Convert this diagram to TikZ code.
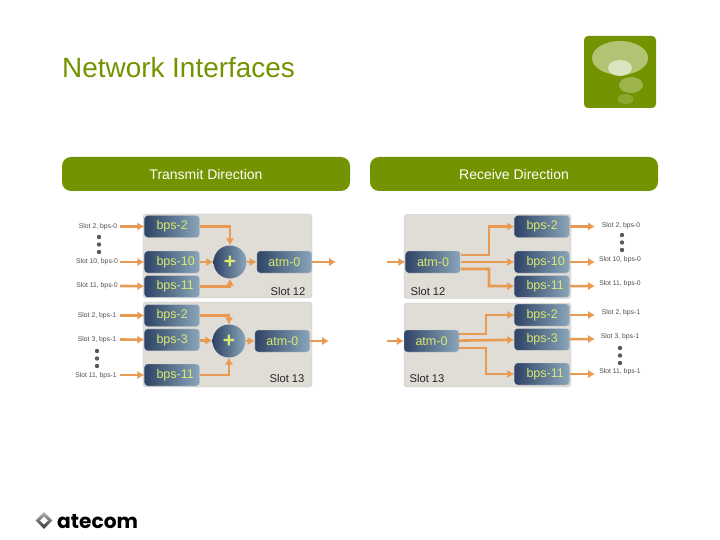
\documentclass[tikz,border=0pt]{standalone}
\usepackage{fontspec}
\setmainfont{Liberation Sans}
\newfontfamily\logofont{Poppins}
\usetikzlibrary{positioning}
\usetikzlibrary{shapes.geometric}
\usetikzlibrary{arrows.meta}
\definecolor{atgreen}{HTML}{739300}
\definecolor{wirecol}{HTML}{E89A52}
\definecolor{blockdark}{HTML}{2F4366}
\definecolor{blocklight}{HTML}{8AA6BA}
\definecolor{blocktext}{HTML}{D9EA6E}
\definecolor{panelcol}{HTML}{E0DCD6}
\tikzstyle{panel} = [draw=black!22, fill=panelcol, rounded corners=3pt, minimum width=169pt, minimum height=84pt]
\tikzstyle{block} = [draw=black!18, rounded corners=3pt, left color=blockdark, right color=blocklight, text=blocktext, font=\fontsize{12.5}{14}\selectfont, minimum width=55pt, minimum height=22pt, inner sep=0pt]
\tikzstyle{bps} = [block, text width=50pt, inner xsep=2.5pt, align=flush left, execute at begin node=\hspace*{9.5pt}]
\tikzstyle{op} = [circle, left color=blockdark, right color=blocklight, text=blocktext, minimum size=33pt, inner sep=0pt, font=\bfseries\fontsize{21}{21}\selectfont]
\tikzstyle{wire} = [wirecol, line width=2.6pt, ->, >={Latex[length=7pt,width=8.5pt]}]
\tikzstyle{slot} = [font=\fontsize{6.8}{8}\selectfont, inner sep=0pt, text=black!70]
\tikzstyle{slotname} = [font=\fontsize{11.2}{13}\selectfont, inner sep=0pt, text=black!85]
\tikzstyle{head} = [fill=atgreen, rounded corners=9pt, text=white, minimum width=288pt, minimum height=34pt, inner sep=0pt, font=\fontsize{14}{16}\selectfont]
\tikzstyle{dot} = [circle, fill=black!65, inner sep=0pt, minimum size=4.4pt]

\begin{document}
\begin{tikzpicture}[x=1pt, y=-1pt]
\useasboundingbox (0,0) rectangle (720,540);

% title and corner mark
\node (title) [anchor=base west, inner sep=0pt, text=atgreen, font=\fontsize{27.9}{30}\selectfont] at (62,77.5) {Network Interfaces};
\node (mark) [fill=atgreen, rounded corners=4pt, minimum width=72pt, minimum height=72pt, inner sep=0pt] at (620,72) {};
\fill [white!45!atgreen] (620,58) ellipse (28 and 17);
\fill [white!75!atgreen] (620,68) ellipse (12 and 8);
\fill [white!30!atgreen] (631,85) ellipse (12 and 8);
\fill [white!18!atgreen] (625.5,99) ellipse (8 and 5);

% headers
\node (txhead) [head] at (206,174) {Transmit Direction};
\node (rxhead) [head] at (514,174) {Receive Direction};

% transmit, slot 12
\node (txpanela) [panel] at (227.5,256) {};
\node (txa2) [bps] at (172,226.5) {bps-2};
\node (txa10) [bps] at (172,262) {bps-10};
\node (txa11) [bps, below=2pt of txa10] {bps-11};
\node (suma) [op] at (230,262) {+};
\node (atma) [block, right=10pt of suma] {atm-0};
\node (slota) [slotname] at (288,291) {Slot 12};
\draw [wire] (txa2) -| (suma);
\draw [wire] (txa10) -- (suma);
\draw [wire] (txa11) -| (suma);
\draw [wire] (suma) -- (atma);
\coordinate (outa) at (336,262);
\draw [wire] (atma) -- (outa);

\node (la2) [slot] at (98,226.5) {Slot 2, bps-0};
\node (la10) [slot] at (97,262) {Slot 10, bps-0};
\node (la11) [slot] at (97,286) {Slot 11, bps-0};
\coordinate (sa2) at (120,226.5);
\coordinate (sa10) at (120,262);
\coordinate (sa11) at (120,286);
\draw [wire] (sa2) -- (txa2);
\draw [wire] (sa10) -- (txa10);
\draw [wire] (sa11) -- (txa11);
\foreach \y in {237,244.5,252} \node [dot] at (99,\y) {};

% transmit, slot 13
\node (txpanelb) [panel, minimum height=85pt] at (227.5,344.5) {};
\node (txb2) [bps] at (172,315.5) {bps-2};
\node (txb3) [bps, below=2pt of txb2] {bps-3};
\node (txb11) [bps] at (172,375) {bps-11};
\node (sumb) [op] at (229,341) {+};
\node (atmb) [block, right=9pt of sumb] {atm-0};
\node (slotb) [slotname] at (287,378) {Slot 13};
\draw [wire] (txb2) -| (sumb);
\draw [wire] (txb3) -- (sumb);
\draw [wire] (txb11) -| (sumb);
\draw [wire] (sumb) -- (atmb);
\coordinate (outb) at (329,341);
\draw [wire] (atmb) -- (outb);

\node (lb2) [slot] at (97,316) {Slot 2, bps-1};
\node (lb3) [slot] at (97,340) {Slot 3, bps-1};
\node (lb11) [slot] at (96,376) {Slot 11, bps-1};
\coordinate (sb2) at (120,315.5);
\coordinate (sb3) at (120,339.5);
\coordinate (sb11) at (120,375);
\draw [wire] (sb2) -- (txb2);
\draw [wire] (sb3) -- (txb3);
\draw [wire] (sb11) -- (txb11);
\foreach \y in {351,358.5,366} \node [dot] at (97,\y) {};

% receive, slot 12
\node (rxpanela) [panel, minimum width=167pt] at (487.5,256.5) {};
\node (rxatma) [block] at (433,262) {atm-0};
\node (rxa2) [bps] at (542,226.5) {bps-2};
\node (rxa10) [bps] at (542,262) {bps-10};
\node (rxa11) [bps, below=2pt of rxa10] {bps-11};
\node (rxslota) [slotname] at (428,291) {Slot 12};
\coordinate (inrxa) at (387,262);
\draw [wire] (inrxa) -- (rxatma);
\coordinate (ja2) at (489,226.5);
\coordinate (ja11) at (489,286);
\draw [wire] ([yshift=7pt]rxatma.east) -| (ja2) -- (rxa2);
\draw [wire] (rxatma) -- (rxa10);
\draw [wire] ([yshift=-7pt]rxatma.east) -| (ja11) -- (rxa11);

\node (ra2) [slot] at (621,226) {Slot 2, bps-0};
\node (ra10) [slot] at (620,260) {Slot 10, bps-0};
\node (ra11) [slot] at (620,284) {Slot 11, bps-0};
\coordinate (ta2) at (595,226.5);
\coordinate (ta10) at (595,262);
\coordinate (ta11) at (595,286);
\draw [wire] (rxa2) -- (ta2);
\draw [wire] (rxa10) -- (ta10);
\draw [wire] (rxa11) -- (ta11);
\foreach \y in {235,242.5,250} \node [dot] at (622,\y) {};

% receive, slot 13
\node (rxpanelb) [panel, minimum width=167pt] at (487.5,345) {};
\node (rxatmb) [block] at (431.5,341) {atm-0};
\node (rxb2) [bps] at (542,315) {bps-2};
\node (rxb3) [bps, below=2pt of rxb2] {bps-3};
\node (rxb11) [bps] at (542,374) {bps-11};
\node (rxslotb) [slotname] at (427,378) {Slot 13};
\coordinate (inrxb) at (387,341);
\draw [wire] (inrxb) -- (rxatmb);
\coordinate (jb2) at (486,315);
\coordinate (jb11) at (486,374);
\draw [wire] ([yshift=7pt]rxatmb.east) -| (jb2) -- (rxb2);
\draw [wire] (rxatmb) -- (rxb3);
\draw [wire] ([yshift=-7pt]rxatmb.east) -| (jb11) -- (rxb11);

\node (rb2) [slot] at (621,313) {Slot 2, bps-1};
\node (rb3) [slot] at (620,337) {Slot 3, bps-1};
\node (rb11) [slot] at (620,372) {Slot 11, bps-1};
\coordinate (tb2) at (595,315);
\coordinate (tb3) at (595,339);
\coordinate (tb11) at (595,374);
\draw [wire] (rxb2) -- (tb2);
\draw [wire] (rxb3) -- (tb3);
\draw [wire] (rxb11) -- (tb11);
\foreach \y in {348,355.5,363} \node [dot] at (620,\y) {};

% company mark
\node (gem) [diamond, top color=black!30, bottom color=black!80, minimum size=17pt, inner sep=0pt] at (44,520.5) {};
\node (gemcore) [diamond, fill=white, minimum size=8pt, inner sep=0pt] at (gem.center) {};
\node (atecom) [anchor=base west, inner sep=0pt, font=\logofont\bfseries\fontsize{20.2}{24}\selectfont] at (57,528) {atecom};
\end{tikzpicture}
\end{document}
